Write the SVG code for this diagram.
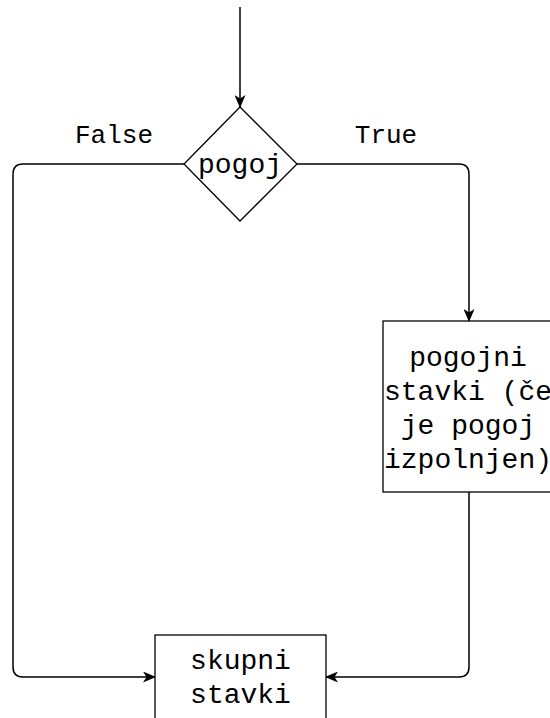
<svg xmlns="http://www.w3.org/2000/svg" width="550" height="718" viewBox="0 0 550 718">
<style>
.ln{fill:none;stroke:#000;stroke-width:1.5;}
.nd{fill:#fff;stroke:#000;stroke-width:1.3;}
.t{font-family:"Liberation Mono",monospace;font-size:28px;fill:#000;text-anchor:middle;}
.lb{font-family:"Liberation Mono",monospace;font-size:26px;fill:#000;text-anchor:middle;}
</style>
<defs>
<marker id="ar" viewBox="0 0 13 11" refX="12" refY="5.5" markerWidth="13" markerHeight="11" markerUnits="userSpaceOnUse" orient="auto">
<path d="M0,0 L13,5.5 L0,11 L3.5,5.5 z" fill="#000"/>
</marker>
</defs>
<g id="connectors">
<path class="ln" d="M240,7 V107" marker-end="url(#ar)"/>
<path class="ln" d="M184,164 H23 Q13,164 13,174 V667 Q13,677 23,677 H155" marker-end="url(#ar)"/>
<path class="ln" d="M297,164 H459 Q469,164 469,174 V321" marker-end="url(#ar)"/>
<path class="ln" d="M469,492 V667 Q469,677 459,677 H326" marker-end="url(#ar)"/>
<text class="lb" x="114" y="143">False</text>
<text class="lb" x="386" y="143">True</text>
</g>
<g id="pogoj">
<polygon class="nd" points="240,107 297,164 240,221 184,164"/>
<text class="t" x="240" y="173">pogoj</text>
</g>
<g id="pogojni">
<rect class="nd" x="383" y="321" width="171" height="171"/>
<text class="t" x="468" y="366">pogojni</text>
<text class="t" x="468" y="400">stavki (če</text>
<text class="t" x="468" y="434">je pogoj</text>
<text class="t" x="468" y="468">izpolnjen)</text>
</g>
<g id="skupni">
<rect class="nd" x="155" y="635" width="171" height="100"/>
<text class="t" x="240.5" y="669">skupni</text>
<text class="t" x="240.5" y="703">stavki</text>
</g>
</svg>
